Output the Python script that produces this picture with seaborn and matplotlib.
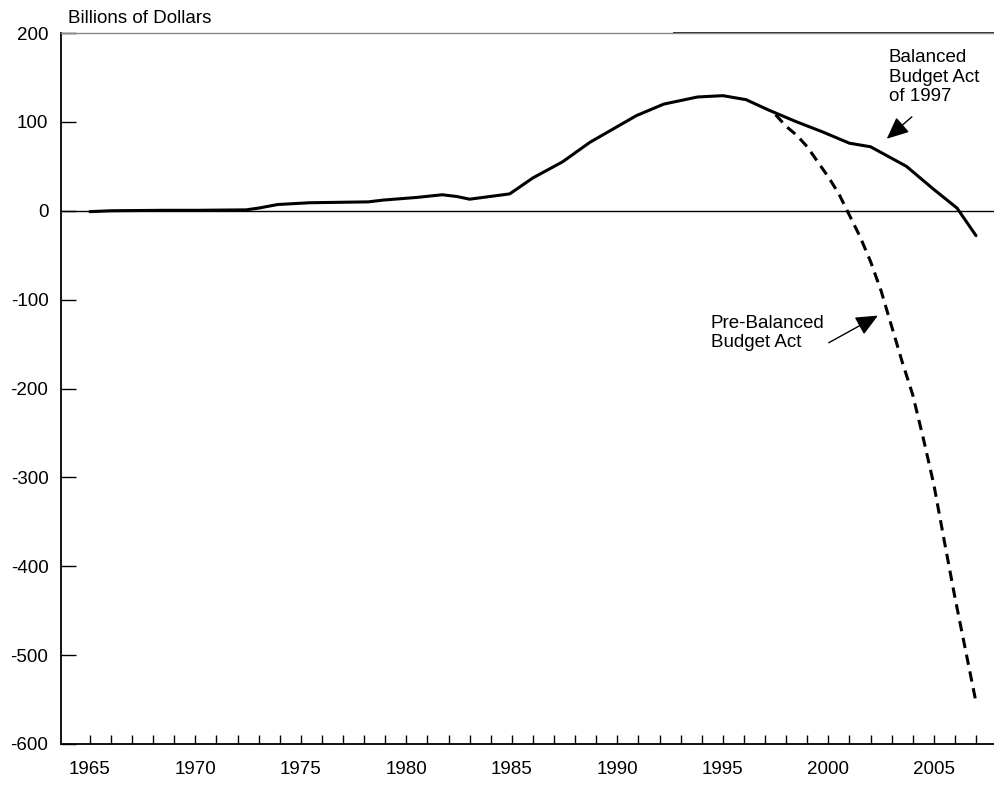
"""
Federal budget surplus projections: Balanced Budget Act of 1997 vs
the pre-BBA baseline (billions of dollars).
"""

import numpy as np
import pandas as pd
import matplotlib
matplotlib.use("Agg")
import matplotlib.pyplot as plt
from matplotlib.ticker import FixedLocator
import seaborn as sns

# ── Data ──────────────────────────────────────────────────────────────────────

BBA_YEARS = [1965.0, 1966.0, 1968.5, 1970.0, 1972.4, 1973.0, 1973.9, 1975.4,
             1978.2, 1978.9, 1980.5, 1981.7, 1982.4, 1983.0, 1984.9, 1986.0,
             1987.4, 1988.7, 1989.8, 1990.9, 1992.2, 1993.8, 1995.0, 1996.1,
             1997.2, 1998.5, 1999.7, 2001.0, 2002.0, 2003.7, 2005.0, 2006.1,
             2007.0]
BBA_VALUES = [-1, 0, 0.5, 0.5, 1, 3, 7, 9,
              10, 12, 15, 18, 16, 13, 19, 37,
              55, 77, 92, 107, 120, 128, 129.5, 125,
              113, 100, 89, 76, 72, 50, 24, 3,
              -28]

PRE_YEARS = [1997.5, 1998.0, 1998.5, 1999.0, 1999.5, 2000.0, 2000.5, 2001.0,
             2001.5, 2002.0, 2002.5, 2003.0, 2003.5, 2004.0, 2004.5, 2005.0,
             2005.5, 2006.0, 2006.5, 2007.0]
PRE_VALUES = [108, 95, 85, 72, 55, 38, 19, -5,
              -29, -57, -90, -130, -170, -207, -256, -308,
              -372, -435, -494, -553]

Y_TICKS = [-600, -500, -400, -300, -200, -100, 0, 100, 200]
X_LABEL_YEARS = [1965, 1970, 1975, 1980, 1985, 1990, 1995, 2000, 2005]
X_TICK_YEARS = list(range(1965, 2008))

FONT = ["Liberation Sans", "DejaVu Sans"]
FS = 13.5


# ── Plot ───────────────────────────────────────────────────────────────────────

def build_frame() -> pd.DataFrame:
    bba = pd.DataFrame({"year": BBA_YEARS, "value": BBA_VALUES,
                        "series": "Balanced Budget Act of 1997"})
    pre = pd.DataFrame({"year": PRE_YEARS, "value": PRE_VALUES,
                        "series": "Pre-Balanced Budget Act"})
    return pd.concat([bba, pre], ignore_index=True)


def plot_surplus(df: pd.DataFrame, out_path: str) -> None:
    sns.set_style("white")
    plt.rcParams["font.family"] = FONT
    plt.rcParams["font.size"] = FS
    plt.rcParams["text.color"] = "black"

    fig = plt.figure(figsize=(9.95, 7.87), dpi=100)
    ax = fig.add_axes([61 / 995, 43 / 787, 934 / 995, 711 / 787])

    sns.lineplot(
        data=df, x="year", y="value",
        style="series",
        dashes={"Balanced Budget Act of 1997": "",
                "Pre-Balanced Budget Act": (3.4, 2.2)},
        color="black", linewidth=2.2,
        legend=False, ax=ax,
    )

    ax.axhline(0, color="black", linewidth=1.0, zorder=1)

    ax.set_xlim(1963.63, 2007.9)
    ax.set_ylim(-600, 200)
    ax.set_yticks(Y_TICKS)
    ax.set_yticklabels([str(v) for v in Y_TICKS])
    ax.set_xticks(X_LABEL_YEARS)
    ax.set_xticklabels([str(y) for y in X_LABEL_YEARS])
    ax.xaxis.set_minor_locator(FixedLocator(X_TICK_YEARS))
    ax.set_xlabel("")
    ax.set_ylabel("")

    ax.tick_params(axis="y", which="major", direction="in", length=10.8,
                   width=1.0, pad=9, labelsize=FS, colors="black", left=True)
    ax.tick_params(axis="x", which="both", direction="in", length=6.5,
                   width=1.0, pad=12, labelsize=FS, colors="black", bottom=True)

    for side in ("left", "bottom"):
        ax.spines[side].set_color("black")
        ax.spines[side].set_linewidth(1.3)
    ax.spines["right"].set_visible(False)
    ax.spines["top"].set_color("#8a8a8a")
    ax.spines["top"].set_linewidth(1.0)
    # darker rule along the top at the right
    ax.hlines(200, 1992.63, 2007.9, color="black", linewidth=1.2, clip_on=False)

    fig.text(68 / 995, 1 - 23 / 787, "Billions of Dollars", fontsize=FS,
             ha="left", va="baseline")

    ax.annotate("Balanced\nBudget Act\nof 1997",
                xy=(2002.77, 81), xytext=(2002.87, 182),
                ha="left", va="top", fontsize=FS, linespacing=1.2)
    ax.annotate("", xy=(2002.77, 81), xytext=(2003.96, 105.7),
                arrowprops=dict(arrowstyle="-|>,head_length=1.0,head_width=0.45",
                                color="black", lw=1.0, shrinkA=0, shrinkB=0))

    ax.annotate("Pre-Balanced\nBudget Act",
                xy=(2002.35, -118), xytext=(1994.43, -117),
                ha="left", va="top", fontsize=FS, linespacing=1.2)
    ax.annotate("", xy=(2002.35, -118), xytext=(2000.02, -148.5),
                arrowprops=dict(arrowstyle="-|>,head_length=1.0,head_width=0.45",
                                color="black", lw=1.0, shrinkA=0, shrinkB=0))

    fig.savefig(out_path, dpi=100)
    plt.close(fig)
    print(f"  Saved: {out_path}")


def main():
    df = build_frame()
    plot_surplus(df, "out.png")


if __name__ == "__main__":
    main()
